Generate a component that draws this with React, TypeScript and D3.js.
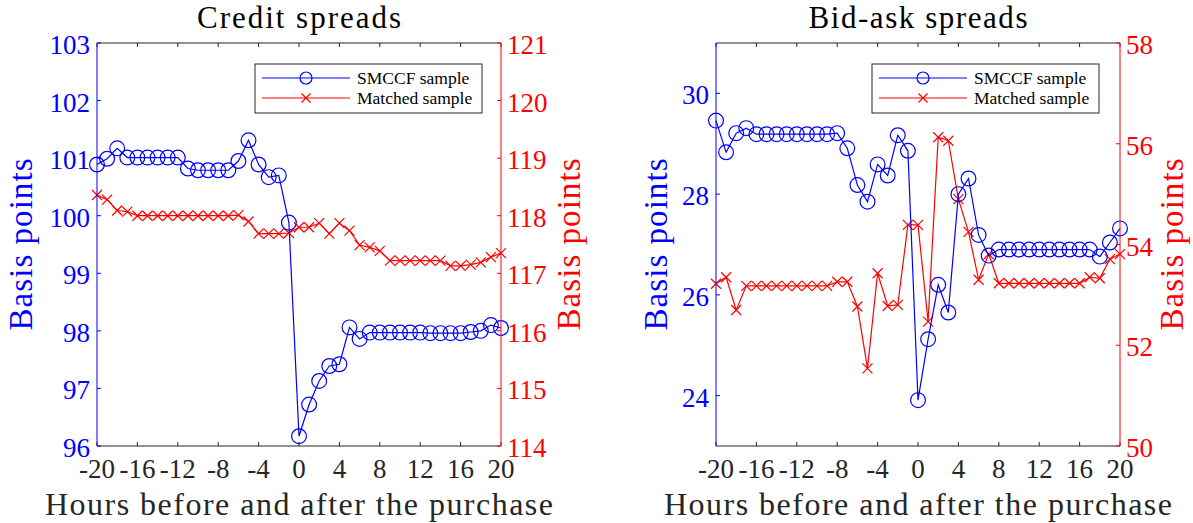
import React from "react";
import * as d3 from "d3";

// hours relative to the purchase
const hours = d3.range(-20, 21);
const xTicks = [-20, -16, -12, -8, -4, 0, 4, 8, 12, 16, 20];

// Credit spreads (bp)
const creditSmccf = [
  100.89, 100.99, 101.17, 101.01, 101.01, 101.01, 101.01, 101.01, 101.01, 100.82,
  100.79, 100.79, 100.79, 100.79, 100.95, 101.31, 100.89, 100.67, 100.7, 99.88,
  96.17, 96.72, 97.13, 97.39, 97.42, 98.06, 97.86, 97.97, 97.97, 97.97,
  97.97, 97.97, 97.97, 97.96, 97.96, 97.96, 97.96, 97.98, 98.0, 98.1, 98.05,
];
const creditMatched = [
  118.36, 118.28, 118.09, 118.07, 118.0, 118.0, 118.0, 118.0, 118.0, 118.0,
  118.0, 118.0, 118.0, 118.0, 118.01, 117.9, 117.69, 117.69, 117.69, 117.7,
  117.8, 117.8, 117.87, 117.69, 117.87, 117.74, 117.49, 117.45, 117.39, 117.22,
  117.22, 117.22, 117.22, 117.22, 117.22, 117.13, 117.13, 117.15, 117.19, 117.28, 117.35,
];

// Bid-ask spreads (bp)
const bidAskSmccf = [
  29.46, 28.83, 29.21, 29.31, 29.19, 29.19, 29.19, 29.19, 29.19, 29.19,
  29.19, 29.19, 29.21, 28.91, 28.18, 27.85, 28.59, 28.37, 29.17, 28.86,
  23.91, 25.12, 26.2, 25.65, 28.0, 28.31, 27.19, 26.78, 26.9, 26.9,
  26.9, 26.9, 26.9, 26.9, 26.9, 26.9, 26.9, 26.9, 26.76, 27.04, 27.32,
];
const bidAskMatched = [
  53.22, 53.35, 52.7, 53.18, 53.18, 53.18, 53.18, 53.18, 53.18, 53.18,
  53.18, 53.18, 53.26, 53.26, 52.77, 51.54, 53.43, 52.78, 52.8, 54.39,
  54.39, 52.47, 56.13, 56.06, 54.9, 54.25, 53.3, 53.81, 53.23, 53.23,
  53.23, 53.23, 53.23, 53.23, 53.23, 53.23, 53.23, 53.35, 53.33, 53.71, 53.81,
];

const legendLabels = ["SMCCF sample", "Matched sample"];
const BLUE = "#0000ff";
const RED = "#ff0000";
const GREY = "#262626";
const FONT = "'Liberation Serif', 'Times New Roman', serif";

type PanelProps = {
  left: number;
  title: string;
  titleLen: number;
  smccf: number[];
  matched: number[];
  leftDomain: [number, number];
  leftTicks: number[];
  rightDomain: [number, number];
  rightTicks: number[];
  legendX: number;
  ylabOffL: number;
  ylabOffR: number;
};

function Panel(props: PanelProps) {
  const { left, title, titleLen, smccf, matched, leftDomain, leftTicks, rightDomain, rightTicks,
    legendX, ylabOffL, ylabOffR } = props;
  const w = 404;
  const top = 43;
  const bottom = 446;
  const right = left + w;

  const x = d3.scaleLinear().domain([-20, 20]).range([left, right]);
  const yL = d3.scaleLinear().domain(leftDomain).range([bottom, top]);
  const yR = d3.scaleLinear().domain(rightDomain).range([bottom, top]);

  const lineL = d3.line<number>().x((_, i) => x(hours[i])).y(d => yL(d));
  const lineR = d3.line<number>().x((_, i) => x(hours[i])).y(d => yR(d));
  const cx = (left + right) / 2;
  const cy = (top + bottom) / 2;

  const cross = (px: number, py: number, s: number, k: string | number) => (
    <path key={k} d={`M${px - s},${py - s}L${px + s},${py + s}M${px - s},${py + s}L${px + s},${py - s}`}
      stroke={RED} strokeWidth={1.2} fill="none" />
  );

  return (
    <g fontFamily={FONT}>
      <text x={cx} y={28} textAnchor="middle" fontSize={31} fill="#000"
        textLength={titleLen} lengthAdjust="spacing">{title}</text>

      {/* series */}
      <path d={lineR(matched) ?? ""} fill="none" stroke={RED} strokeWidth={1.2} />
      {matched.map((v, i) => cross(x(hours[i]), yR(v), 5, i))}
      <path d={lineL(smccf) ?? ""} fill="none" stroke={BLUE} strokeWidth={1.2} />
      {smccf.map((v, i) => (
        <circle key={i} cx={x(hours[i])} cy={yL(v)} r={7.4} fill="none" stroke={BLUE} strokeWidth={1.2} />
      ))}

      {/* top and bottom axes */}
      <line x1={left} x2={right} y1={top} y2={top} stroke={GREY} />
      <line x1={left} x2={right} y1={bottom} y2={bottom} stroke={GREY} />
      {xTicks.map(t => (
        <g key={t}>
          <line x1={x(t)} x2={x(t)} y1={bottom} y2={bottom - 4} stroke={GREY} />
          <line x1={x(t)} x2={x(t)} y1={top} y2={top + 4} stroke={GREY} />
          <text x={x(t)} y={bottom + 32} textAnchor="middle" fontSize={27} fill={GREY}>{t}</text>
        </g>
      ))}
      <text x={cx} y={515} textAnchor="middle" fontSize={32} fill={GREY}
        textLength={508} lengthAdjust="spacing">Hours before and after the purchase</text>

      {/* left axis */}
      <line x1={left} x2={left} y1={top} y2={bottom} stroke={BLUE} />
      {leftTicks.map(t => (
        <g key={t}>
          <line x1={left} x2={left + 4} y1={yL(t)} y2={yL(t)} stroke={BLUE} />
          <text x={left - 7} y={yL(t) + 11} textAnchor="end" fontSize={27} fill={BLUE}>{t}</text>
        </g>
      ))}
      <text transform={`translate(${left - ylabOffL},${cy}) rotate(-90)`} textAnchor="middle"
        fontSize={33} fill={BLUE} textLength={172} lengthAdjust="spacing">Basis points</text>

      {/* right axis */}
      <line x1={right} x2={right} y1={top} y2={bottom} stroke={RED} />
      {rightTicks.map(t => (
        <g key={t}>
          <line x1={right} x2={right - 4} y1={yR(t)} y2={yR(t)} stroke={RED} />
          <text x={right + 6} y={yR(t) + 11} textAnchor="start" fontSize={27} fill={RED}>{t}</text>
        </g>
      ))}
      <text transform={`translate(${right + ylabOffR},${cy}) rotate(-90)`} textAnchor="middle"
        fontSize={33} fill={RED} textLength={172} lengthAdjust="spacing">Basis points</text>

      {/* legend */}
      <g transform={`translate(${legendX},64)`}>
        <rect x={0} y={0} width={227} height={49} fill="#fff" stroke={GREY} strokeWidth={1} />
        <line x1={7} x2={95} y1={14} y2={14} stroke={BLUE} strokeWidth={1.2} />
        <circle cx={51} cy={14} r={6} fill="none" stroke={BLUE} strokeWidth={1.2} />
        <line x1={7} x2={95} y1={34} y2={34} stroke={RED} strokeWidth={1.2} />
        {cross(51, 34, 4.5, "lg")}
        <text x={102} y={20} fontSize={17.5} fill="#000">{legendLabels[0]}</text>
        <text x={102} y={40} fontSize={17.5} fill="#000">{legendLabels[1]}</text>
      </g>
    </g>
  );
}

export default function App() {
  return (
    <svg width={1193} height={523} style={{ display: "block", position: "absolute", left: 0, top: 0 }}>
      <rect width={1193} height={523} fill="#fff" />
      <Panel left={97} title="Credit spreads" titleLen={204} smccf={creditSmccf} matched={creditMatched}
        leftDomain={[96, 103]} leftTicks={d3.range(96, 104)}
        rightDomain={[114, 121]} rightTicks={d3.range(114, 122)} legendX={255}
        ylabOffL={65} ylabOffR={79} />
      <Panel left={716} title="Bid-ask spreads" titleLen={219} smccf={bidAskSmccf} matched={bidAskMatched}
        leftDomain={[23, 31]} leftTicks={[24, 26, 28, 30]}
        rightDomain={[50, 58]} rightTicks={[50, 52, 54, 56, 58]} legendX={872}
        ylabOffL={49} ylabOffR={63} />
    </svg>
  );
}
